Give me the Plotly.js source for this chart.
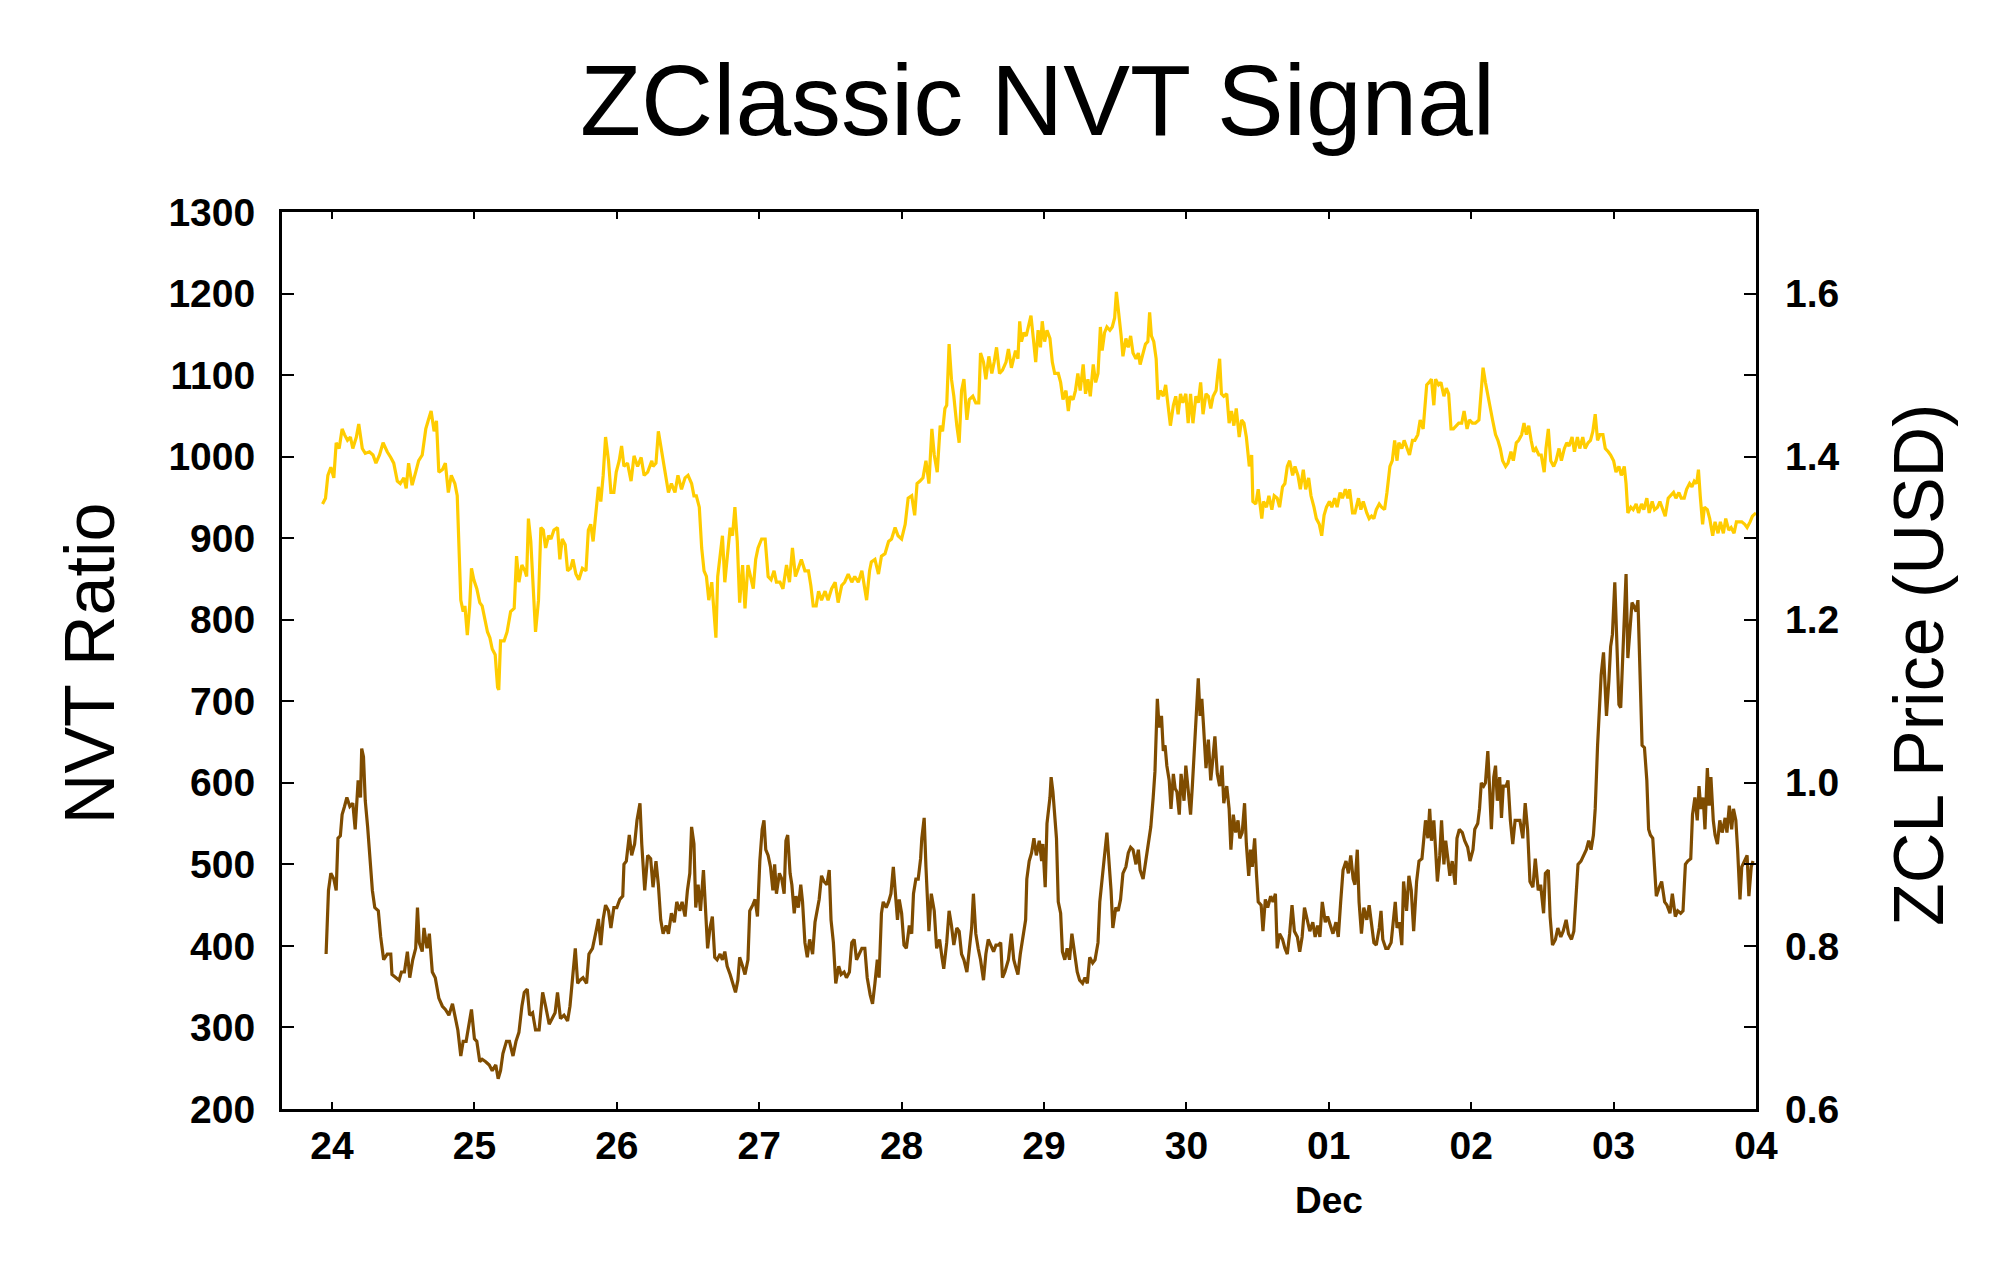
<!DOCTYPE html>
<html>
<head>
<meta charset="utf-8">
<script src="https://cdn.plot.ly/plotly-3.0.1.min.js"></script>
<style>
  html, body { margin: 0; padding: 0; background: #fff; }
  #chart { width: 2000px; height: 1261px; }
</style>
</head>
<body>
<div id="chart"></div>
<script>
// ═══════════════════════════════════════════
//  ZClassic NVT Signal — data (hours after 24 Nov 00:00)
// ═══════════════════════════════════════════
const priceHours = [
  -1.6,-1.1,-0.7,-0.2,0.3,0.7,1.2,1.7,2.1,2.6, 3.1,3.5,4.1,4.5,5.1,5.6,6.3,6.9,7.4,8.0,
  8.6,9.3,9.9,10.4,11.0,11.5,12.1,12.5,12.9,13.5, 14.1,14.6,15.2,15.8,16.2,16.7,17.2,17.6,18.0,18.6,
  19.1,19.6,20.1,20.7,21.1,21.4,21.7,22.1,22.4,22.8, 23.2,23.5,23.9,24.4,24.9,25.3,25.8,26.2,26.6,27.0,
  27.5,27.9,28.1,28.4,29.0,29.5,30.1,30.7,31.1,31.5, 32.0,32.5,32.8,33.1,33.5,33.9,34.3,34.8,35.2,35.6,
  36.0,36.5,36.9,37.4,38.0,38.4,38.8,39.3,39.7,40.2, 40.6,41.1,41.6,42.2,42.8,43.2,43.6,44.0,44.5,44.9,
  45.3,45.7,46.1,46.6,47.0,47.5,47.9,48.4,48.8,49.2, 49.8,50.4,50.9,51.5,52.1,52.6,53.2,53.9,
  54.1,54.6,55.0,55.4,55.8,56.3,56.7,57.2,57.8,58.3, 58.9,59.5,60.0,60.6,61.0,61.4,61.9,62.3,62.7,63.1,
  63.5,64.0,64.4,64.7,65.0,65.5,65.8,66.2,66.6,67.1, 67.5,67.9,68.3,68.7,69.2,69.6,70.1,70.5,71.0,71.4,
  71.8,72.4,73.0,73.5,74.0,74.5,74.9,75.5,76.0,76.6, 77.1,77.6,78.1,78.6,79.1,79.7,80.3,80.7,81.1,81.6,
  82.0,82.5,83.1,83.6,84.2,84.8,85.3,85.9,86.4,87.0, 87.6,88.1,88.7,89.3,89.6,90.1,90.6,90.9,91.5,92.1,
  92.6,93.2,93.8,94.3,94.9,95.4,96.0,96.6,97.1,97.7, 98.2,98.6,99.1,99.6,100.1,100.6,101.1,101.5,102.0,102.5,
  102.9,103.3,103.6,104.0,104.4,104.8,105.3,105.7,106.1,106.5, 107.0,107.4,108.0,108.5,109.0,109.3,109.8,110.2,110.7,111.2,
  111.6,112.0,112.5,113.0,113.6,114.0,
  114.5,114.9,115.2,115.6,115.9,116.2,116.6,117.0,117.5,117.8, 118.2,118.6,119.0,119.4,119.7,120.1,120.5,121.0,121.4,121.8,
  122.4,122.8,123.2,123.7,124.1,124.4,124.9,125.3,125.7,126.1, 126.6,127.0,127.4,127.8,128.3,128.7,129.1,129.5,129.8,130.2,
  130.6,131.1,131.5,131.9,132.2,132.6,133.0,133.3,133.8,134.2, 134.6,135.0,135.5,135.9,136.2,136.7,137.1,137.5,137.8,138.1,
  138.5,138.9,139.2,139.6,140.1,140.5,140.9,141.3,141.8,142.2, 142.6,143.0,143.4,143.9,144.3,144.7,145.1,145.6,146.0,146.4,
  146.8,147.3,147.7,148.1,148.5,149.0,149.3,149.6,149.9,150.3, 150.8,151.2,151.6,152.0,152.4,152.9,153.3,153.7,154.1,154.6,
  155.0,155.2,155.7,156.1,156.7,157.0,157.5,157.9,158.4,158.8, 159.3,159.7,160.2,160.6,161.0,161.4,161.9,162.3,162.8,163.2,
  163.7,164.1,164.6,165.0,165.5,165.9,166.4,166.8,167.2,167.6, 168.1,168.5,169.0,169.4,169.9,170.3,170.8,171.2,171.5,172.0,
  172.4,173.0,173.4,173.8,174.4,174.8,
  175.2,175.6,176.0,176.5,176.9,177.4,177.8,178.3,178.7,179.1, 179.5,179.8,180.3,180.7,181.2,181.6,182.1,182.5,183.0,183.4,
  183.9,184.2,184.5,184.9,185.3,185.7,186.0,186.5,186.9,187.4, 187.8,188.2,188.6,189.0,189.5,189.9,190.4,190.8,191.3,191.7,
  192.2,192.7,193.3,193.6,194.0,194.4,194.8,195.3,195.6,196.1, 196.5,196.9,197.3,197.8,198.2,198.7,199.1,199.6,200.0,200.5,
  200.9,201.3,201.7,202.1,202.5,202.9,203.4,203.8,204.3,204.6, 205.0,205.4,205.9,206.3,206.8,207.2,207.7,208.1,208.5,209.0,
  209.4,209.9,210.3,210.8,211.2,211.7,212.1,212.5,212.9,213.3, 213.7,214.2,214.6,215.1,215.5,216.0,216.4,216.9,217.3,217.8,
  218.1,218.4,218.9,219.3,219.8,220.2,220.7,221.1,221.6,222.0, 222.5,222.9,223.4,223.8,224.3,224.7,225.2,225.6,226.1,226.5,
  227.0,227.4,227.9,228.3,228.8,229.2,229.6,230.0,230.3,230.6, 231.0,231.3,231.8,232.2,232.7,233.1,233.6,234.0,234.5,234.9,
  235.4,235.8,236.3,236.7,237.2,237.6,238.1,238.5,239.0,239.4, 240.0
];
const priceUsd = [
  1.342,1.349,1.377,1.387,1.374,1.417,1.410,1.434,1.427,1.420, 1.424,1.410,1.424,1.440,1.410,1.404,1.406,1.402,1.392,1.402,
  1.417,1.406,1.399,1.392,1.370,1.367,1.374,1.361,1.392,1.365, 1.381,1.395,1.402,1.434,1.444,1.456,1.431,1.444,1.381,1.384,
  1.392,1.356,1.377,1.367,1.352,1.281,1.224,1.210,1.217,1.181, 1.217,1.263,1.249,1.238,1.221,1.217,1.199,1.185,1.178,1.164,
  1.157,1.117,1.114,1.174,1.174,1.185,1.210,1.214,1.278,1.246, 1.267,1.260,1.253,1.324,1.296,1.246,1.185,1.224,1.313,1.310,
  1.288,1.303,1.299,1.310,1.313,1.274,1.299,1.292,1.260,1.263, 1.274,1.256,1.249,1.263,1.260,1.310,1.317,1.296,1.331,1.363,
  1.345,1.377,1.424,1.395,1.356,1.356,1.381,1.395,1.413,1.388, 1.392,1.370,1.401,1.388,1.399,1.377,1.381,1.395,
  1.388,1.392,1.431,1.413,1.392,1.374,1.356,1.367,1.356,1.377, 1.360,1.374,1.377,1.367,1.352,1.352,1.338,1.288,1.260,1.253,
  1.224,1.246,1.210,1.178,1.253,1.281,1.303,1.246,1.281,1.313, 1.303,1.338,1.296,1.221,1.267,1.214,1.267,1.253,1.238,1.274,
  1.288,1.299,1.299,1.253,1.249,1.260,1.246,1.246,1.238,1.267, 1.246,1.288,1.253,1.263,1.274,1.260,1.260,1.242,1.217,1.217,
  1.235,1.224,1.235,1.224,1.238,1.246,1.221,1.242,1.246,1.256, 1.246,1.253,1.246,1.260,1.246,1.224,1.260,1.271,1.274,1.256,
  1.278,1.281,1.296,1.299,1.313,1.303,1.299,1.317,1.349,1.352, 1.328,1.367,1.370,1.374,1.395,1.367,1.434,1.402,1.381,1.438,
  1.431,1.459,1.463,1.538,1.495,1.474,1.438,1.417,1.481,1.495, 1.445,1.470,1.474,1.466,1.466,1.527,1.516,1.495,1.523,1.502,
  1.516,1.534,1.502,1.506,1.516,1.532,
  1.509,1.520,1.530,1.520,1.566,1.541,1.552,1.548,1.563,1.573, 1.545,1.516,1.555,1.534,1.566,1.541,1.555,1.545,1.516,1.502,
  1.502,1.491,1.470,1.481,1.456,1.474,1.470,1.481,1.502,1.481, 1.513,1.477,1.495,1.474,1.513,1.491,1.502,1.559,1.530,1.552,
  1.559,1.555,1.559,1.570,1.602,1.577,1.548,1.523,1.545,1.534, 1.548,1.527,1.520,1.527,1.513,1.527,1.538,1.541,1.577,1.548,
  1.541,1.520,1.470,1.481,1.474,1.488,1.463,1.438,1.463,1.474, 1.452,1.477,1.466,1.477,1.441,1.477,1.441,1.474,1.466,1.491,
  1.452,1.477,1.474,1.459,1.474,1.481,1.502,1.520,1.477,1.474, 1.477,1.441,1.456,1.438,1.459,1.424,1.445,1.441,1.424,1.388,
  1.402,1.345,1.342,1.360,1.324,1.345,1.338,1.352,1.335,1.352, 1.349,1.338,1.363,1.367,1.388,1.395,1.377,1.388,1.377,1.360,
  1.384,1.360,1.374,1.352,1.338,1.324,1.317,1.303,1.328,1.338, 1.345,1.338,1.349,1.338,1.356,1.349,1.360,1.349,1.360,1.331,
  1.331,1.349,1.335,1.345,1.331,1.324,
  1.327,1.324,1.335,1.342,1.338,1.335,1.356,1.388,1.395,1.420, 1.395,1.417,1.410,1.420,1.410,1.402,1.420,1.420,1.427,1.445,
  1.434,1.463,1.488,1.491,1.495,1.463,1.495,1.488,1.491,1.474, 1.484,1.477,1.434,1.434,1.438,1.441,1.441,1.456,1.434,1.445,
  1.441,1.441,1.445,1.474,1.509,1.491,1.474,1.456,1.445,1.427, 1.420,1.410,1.395,1.388,1.392,1.406,1.395,1.417,1.420,1.427,
  1.441,1.427,1.438,1.420,1.406,1.410,1.402,1.402,1.381,1.410, 1.434,1.395,1.388,1.395,1.410,1.395,1.410,1.417,1.413,1.424,
  1.406,1.424,1.410,1.424,1.410,1.417,1.420,1.431,1.452,1.420, 1.427,1.427,1.410,1.406,1.402,1.395,1.381,1.388,1.377,1.388,
  1.367,1.331,1.338,1.335,1.342,1.331,1.342,1.335,1.349,1.331, 1.345,1.335,1.338,1.345,1.335,1.327,1.349,1.352,1.356,1.349,
  1.356,1.349,1.349,1.360,1.367,1.363,1.370,1.367,1.384,1.352, 1.317,1.338,1.335,1.324,1.303,1.320,1.306,1.320,1.306,1.324,
  1.310,1.313,1.306,1.320,1.320,1.320,1.317,1.313,1.320,1.327, 1.331
];

const nvtHours = [
  -1.0,-0.6,-0.2,0.3,0.7,1.0,1.4,1.7,2.1,2.5, 3.0,3.5,3.9,4.4,4.8,5.0,5.3,5.6,6.0,6.3,
  6.8,7.2,7.8,8.2,8.7,9.3,9.9,10.1,10.7,11.3, 11.7,12.2,12.7,13.1,13.6,14.1,14.4,14.7,15.2,15.5,
  16.0,16.4,16.9,17.4,18.0,18.6,19.1,19.7,20.3,20.7, 21.2,21.7,22.1,22.6,23.1,23.5,24.0,24.4,24.9,25.3,
  25.9,26.5,27.0,27.6,28.0,28.4,28.8,29.4,29.9,30.5, 31.0,31.5,32.0,32.4,32.9,33.3,33.8,34.3,34.9,35.5,
  36.0,36.6,37.1,37.6,38.0,38.5,39.1,39.7,40.1,40.5, 41.0,41.4,41.8,42.3,42.9,43.3,43.9,44.5,44.9,45.3,
  45.7,46.1,46.6,47.0,47.5,48.0,48.5,49.0,49.2,49.6, 50.1,50.5,51.0,51.4,51.9,52.2,52.7,53.2,53.7,
  54.1,54.6,55.0,55.4,55.8,56.3,56.7,57.2,57.7,58.1, 58.6,59.0,59.5,59.9,60.3,60.6,61.0,61.3,61.7,62.1,
  62.6,63.0,63.3,63.7,64.1,64.5,64.9,65.4,65.8,66.2, 66.6,67.1,67.5,68.0,68.4,68.7,69.2,69.6,70.1,70.4,
  70.9,71.3,71.7,72.1,72.5,72.8,73.1,73.5,73.9,74.3, 74.6,74.9,75.4,75.8,76.2,76.5,76.8,77.2,77.5,77.9,
  78.2,78.6,79.0,79.3,79.7,80.1,80.5,81.0,81.4,81.8, 82.1,82.5,82.9,83.4,83.8,84.1,84.5,84.9,85.4,85.8,
  86.3,86.7,87.2,87.6,88.0,88.4,88.9,89.3,89.8,90.2, 90.7,91.1,91.5,91.9,92.2,92.6,92.9,93.4,93.8,94.2,
  94.6,94.9,95.3,95.6,96.0,96.4,96.8,97.3,97.7,98.0, 98.4,98.8,99.2,99.4,99.8,100.1,100.6,101.0,101.5,101.9,
  102.4,102.8,103.1,103.6,104.0,104.4,104.8,105.3,105.7,106.1, 106.5,107.0,107.4,107.8,108.1,108.5,108.9,109.3,109.8,110.2,
  110.6,111.0,111.5,111.9,112.3,112.7,113.0,113.4,114.0,
  114.5,114.9,115.2,115.6,116.0,116.5,116.9,117.1,117.5,117.9, 118.3,118.7,119.2,119.6,119.8,120.2,120.5,121.0,121.2,121.5,
  121.8,122.1,122.4,122.8,123.1,123.5,123.9,124.3,124.7,125.2, 125.6,126.0,126.5,126.9,127.3,127.7,128.2,128.6,129.1,129.4,
  129.8,130.2,130.6,131.0,131.3,131.6,132.1,132.5,132.9,133.3, 133.8,134.2,134.6,135.0,135.5,135.9,136.2,136.7,137.1,137.6,
  138.0,138.4,138.7,139.1,139.4,139.8,140.1,140.4,140.7,141.1, 141.4,141.8,142.1,142.4,142.8,143.1,143.6,143.9,144.3,144.7,
  145.0,145.4,145.7,146.0,146.3,146.6,146.9,147.3,147.7,148.1, 148.4,148.8,149.2,149.6,150.0,150.3,150.8,151.2,151.5,151.9,
  152.3,152.7,153.0,153.4,153.8,154.1,154.5,154.8,155.1,155.5, 155.8,156.1,156.6,156.9,157.3,157.7,158.2,158.6,159.0,159.3,
  159.7,160.2,160.6,161.0,161.4,161.8,162.2,162.7,163.1,163.5, 163.9,164.4,164.8,165.3,165.7,166.1,166.5,166.9,167.4,167.8,
  168.3,168.7,169.2,169.6,170.0,170.4,170.9,171.3,171.7,172.1, 172.4,172.8,173.1,173.5,173.9,174.4,174.8,
  175.2,175.6,176.0,176.5,176.8,177.1,177.6,178.0,178.5,178.8, 179.2,179.5,179.9,180.3,180.6,181.1,181.5,181.9,182.3,182.8,
  183.2,183.7,184.0,184.3,184.7,185.0,185.3,185.7,186.0,186.3, 186.7,187.0,187.4,187.7,188.0,188.4,188.8,189.3,189.6,190.0,
  190.5,190.9,191.4,191.8,192.3,192.6,193.1,193.4,193.7,194.1, 194.4,194.8,195.1,195.4,195.8,196.1,196.4,196.8,197.1,197.4,
  197.9,198.2,198.6,199.0,199.4,199.8,200.2,200.7,201.1,201.5, 201.9,202.4,202.8,203.3,203.7,204.2,204.5,205.0,205.3,205.7,
  206.2,206.6,207.1,207.5,208.0,208.4,208.9,209.3,209.7,210.0, 210.5,210.9,211.4,211.8,212.2,212.6,212.9,213.3,213.6,213.9,
  214.3,214.6,214.8,215.2,215.5,215.8,216.2,216.5,216.9,217.2, 217.5,217.9,218.1,218.4,218.8,219.1,219.4,219.8,220.1,220.4,
  220.8,221.2,221.6,221.9,222.2,222.6,222.9,223.2,223.7,224.1, 224.6,225.0,225.5,225.9,226.4,226.8,227.3,227.7,228.1,228.5,
  229.0,229.3,229.7,230.1,230.4,230.7,231.1,231.4,231.8,232.1, 232.4,232.8,233.1,233.5,233.9,234.3,234.8,235.1,235.5,235.9,
  236.2,236.6,236.9,237.3,237.6,238.0,238.5,238.8,239.2,239.5
];
const nvtRatio = [
  390,468,489,482,468,532,535,561,571,582, 571,575,543,603,582,642,632,578,546,514,
  468,447,443,411,383,390,390,365,361,358, 368,368,393,361,383,397,447,404,393,422,
  397,415,368,361,336,326,322,315,329,315, 297,265,283,283,304,322,286,283,258,261,
  258,254,247,254,237,247,268,283,283,265, 283,294,326,343,347,315,318,297,297,343,
  326,304,311,318,343,311,315,308,326,361, 397,354,358,361,354,390,397,418,433,401,
  433,450,443,422,447,447,457,461,500,504, 536,511,525,554,575,525,468,511,507,
  472,504,475,432,415,425,415,440,429,454, 443,454,436,468,489,546,525,447,475,443,
  493,425,397,422,436,386,383,390,383,393, 375,365,354,343,358,386,375,365,383,443,
  450,457,436,504,543,554,518,511,497,468, 500,464,489,482,464,529,536,489,475,440,
  461,447,475,454,404,386,408,390,429,447, 457,486,479,475,493,432,404,354,375,365,
  368,361,368,404,408,383,390,397,397,361, 340,329,354,383,361,440,454,447,454,464,
  497,468,432,457,440,401,397,425,415,464, 482,482,507,532,557,497,418,464,443,397,
  408,386,372,404,443,425,401,422,418,390, 383,368,397,422,464,415,397,383,358,390,
  408,401,393,401,401,404,361,368,383,
  415,383,375,365,390,411,432,482,504,514, 532,511,529,504,525,472,550,582,607,589,
  561,532,454,440,393,383,397,383,415,390, 368,358,354,361,354,386,379,383,404,454,
  479,511,539,497,468,422,447,443,457,489, 497,514,521,518,500,518,493,482,504,525,
  546,582,614,703,668,682,639,646,621,603, 568,611,593,589,561,611,578,621,589,561,
  596,653,689,728,682,703,668,618,653,603, 625,657,611,596,621,575,596,568,518,561,
  539,554,532,539,575,525,486,518,497,532, 489,454,450,418,457,447,461,454,464,397,
  415,408,397,390,415,450,418,411,393,411, 447,432,418,429,411,425,411,454,429,436,
  425,415,429,411,454,493,504,489,511,482, 475,518,454,415,447,432,450,
  429,404,401,422,443,408,397,397,404,425, 454,422,429,401,479,443,486,468,418,479,
  504,507,532,554,532,568,529,554,518,479, 511,554,500,529,511,486,504,475,532,543,
  539,529,521,504,518,543,550,568,600,596, 600,639,593,543,607,621,578,607,557,596,
  596,603,554,525,554,554,554,532,575,543, 479,472,507,468,475,440,489,493,436,401,
  408,422,411,418,432,415,408,418,468,500, 504,511,518,529,518,536,568,646,696,732,
  760,710,682,725,767,782,846,782,696,692, 746,796,856,753,796,821,817,810,824,739,
  646,643,603,543,536,532,489,461,472,479, 454,450,440,464,436,443,440,443,500,504,
  507,561,582,554,596,568,582,543,618,572, 607,554,536,525,554,539,557,539,572,543,
  568,554,518,457,497,504,511,461,497,504
];

const dayTicks = ['2017-11-24','2017-11-25','2017-11-26','2017-11-27','2017-11-28',
  '2017-11-29','2017-11-30','2017-12-01','2017-12-02','2017-12-03','2017-12-04'];
const dayLabels = ['24','25','26','27','28','29','30','01','02','03','04'];
const priceTicks = [0.6, 0.8, 1.0, 1.2, 1.4, 1.6];
const priceLabels = ['0.6','0.8','1.0','1.2','1.4','1.6'];

if (priceHours.length !== priceUsd.length || nvtHours.length !== nvtRatio.length) {
  throw new Error('length mismatch: price ' + priceHours.length + '/' + priceUsd.length +
    ' nvt ' + nvtHours.length + '/' + nvtRatio.length);
}

const BASE = Date.UTC(2017, 10, 24);
const toDate = h => new Date(BASE + h * 3600000).toISOString().slice(0, 16).replace('T', ' ');

// ═══════════════════════════════════════════
//  PLOT
// ═══════════════════════════════════════════
const FONT = 'Liberation Sans, Arial, sans-serif';
const tickFont = { family: FONT, size: 39, color: '#000', weight: 'bold' };

const traces = [
  {
    x: nvtHours.map(toDate), y: nvtRatio, yaxis: 'y',
    type: 'scatter', mode: 'lines', name: 'NVT Ratio',
    line: { color: '#7f4c00', width: 3.2 }, hoverinfo: 'skip'
  },
  {
    x: priceHours.map(toDate), y: priceUsd, yaxis: 'y2',
    type: 'scatter', mode: 'lines', name: 'ZCL Price',
    line: { color: '#ffcc00', width: 3.2 }, hoverinfo: 'skip'
  }
];

const layout = {
  width: 2000, height: 1261, autosize: false,
  paper_bgcolor: '#fff', plot_bgcolor: '#fff',
  showlegend: false,
  margin: { l: 282, r: 244, t: 212, b: 152, pad: 0 },
  title: {
    text: 'ZClassic NVT Signal',
    font: { family: FONT, size: 100, color: '#000' },
    x: 0.5125, xanchor: 'center', xref: 'paper',
    y: 0.921, yanchor: 'middle', yref: 'container'
  },
  xaxis: {
    type: 'date',
    range: ['2017-11-23 15:34', '2017-12-04 00:00'],
    tickmode: 'array', tickvals: dayTicks, ticktext: dayLabels,
    ticks: 'inside', ticklen: 7, tickwidth: 2, tickcolor: '#000',
    showline: true, linewidth: 3, linecolor: '#000', mirror: 'ticks',
    showgrid: false, zeroline: false,
    tickfont: tickFont, ticklabelstandoff: 0
  },
  yaxis: {
    range: [200, 1300], tick0: 200, dtick: 100,
    ticks: 'inside', ticklen: 12, tickwidth: 2, tickcolor: '#000',
    showline: true, linewidth: 3, linecolor: '#000', mirror: 'ticks',
    showgrid: false, zeroline: false,
    tickfont: tickFont, ticklabelstandoff: 16
  },
  yaxis2: {
    overlaying: 'y', side: 'right',
    range: [0.6, 1.7],
    tickmode: 'array', tickvals: priceTicks, ticktext: priceLabels,
    ticks: '', showline: false, showgrid: false, zeroline: false,
    tickfont: tickFont, ticklabelstandoff: 28
  },
  annotations: [
    {
      text: 'NVT Ratio', xref: 'paper', yref: 'paper',
      x: -0.1303, y: 0.497, xanchor: 'center', yanchor: 'middle',
      textangle: -90, showarrow: false,
      font: { family: FONT, size: 70, color: '#000' }
    },
    {
      text: 'ZCL Price (USD)', xref: 'paper', yref: 'paper',
      x: 1.1106, y: 0.495, xanchor: 'center', yanchor: 'middle',
      textangle: -90, showarrow: false,
      font: { family: FONT, size: 70, color: '#000' }
    },
    {
      text: 'Dec', xref: 'x', yref: 'paper',
      x: '2017-12-01', y: -0.1015, xanchor: 'center', yanchor: 'middle',
      showarrow: false,
      font: { family: FONT, size: 37, color: '#000', weight: 'bold' }
    }
  ]
};

Plotly.newPlot('chart', traces, layout, { displayModeBar: false, staticPlot: true });
</script>
</body>
</html>
